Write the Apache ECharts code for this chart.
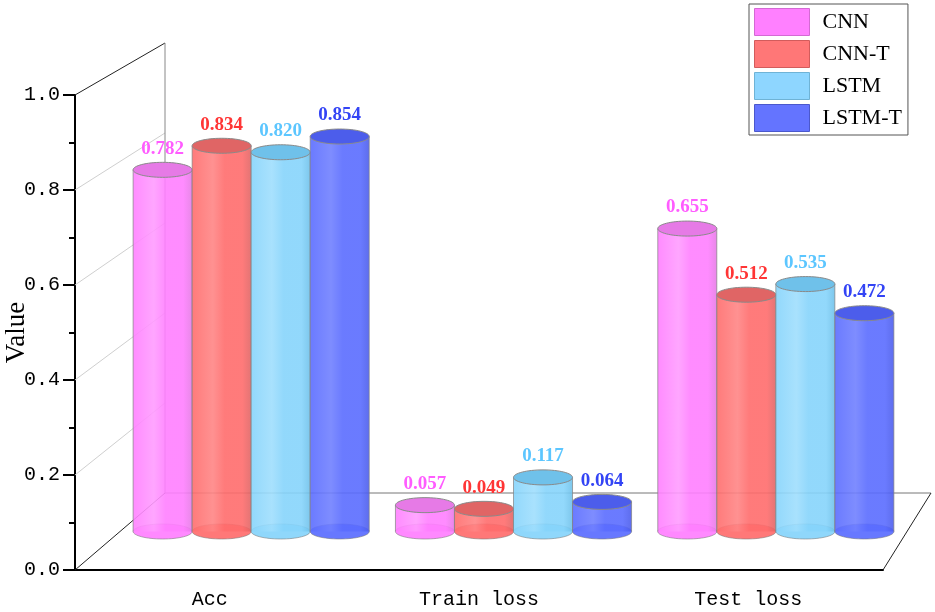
<!DOCTYPE html>
<html>
<head>
    <meta charset="utf-8">
    <script src="https://cdn.jsdelivr.net/npm/echarts@6/dist/echarts.min.js"></script>
    <style>
        html, body { margin: 0; padding: 0; background: #fff; }
    </style>
</head>
<body>
<div id="main" style="width: 935px;height:612px;"></div>
<script type="text/javascript">
    // data
    const categories = ['Acc', 'Train loss', 'Test loss'];
    const seriesNames = ['CNN', 'CNN-T', 'LSTM', 'LSTM-T'];
    const cnnValues = [0.782, 0.057, 0.655];
    const cnnTValues = [0.834, 0.049, 0.512];
    const lstmValues = [0.820, 0.117, 0.535];
    const lstmTValues = [0.854, 0.064, 0.472];
    const wallGridValues = [0.2, 0.4, 0.6, 0.8];

    const allValues = [cnnValues, cnnTValues, lstmValues, lstmTValues];
    // side colour, highlight, top colour, label colour
    const palette = [
        {side: '#ff7fff', light: '#ff9cff', top: '#e67ae6', label: '#ff5cff', legend: '#ff80ff', border: '#d36ad3'},
        {side: '#ff6c6c', light: '#ff8585', top: '#e06565', label: '#ff3535', legend: '#ff7777', border: '#d25c5c'},
        {side: '#86d4fb', light: '#9fdefd', top: '#6fc1ea', label: '#5cc6ff', legend: '#8ed6ff', border: '#6fb3d6'},
        {side: '#5a6cff', light: '#7080ff', top: '#4c5deb', label: '#3344f5', legend: '#6474ff', border: '#4b58cc'}
    ];

    const myChart = echarts.init(document.getElementById('main'));

    const axisFont = 'Liberation Mono';
    const ry = 7.5;

    function renderCylinder(params, api) {
        const s = params.seriesIndex;
        const cat = api.value(0);
        const val = api.value(1);
        const top = api.coord([cat, val]);
        const bottom = api.coord([cat, 0]);
        const band = api.size([1, 0])[0];
        const bw = band * 0.225;
        const cx = top[0] + (s - 1.5) * bw;
        const rx = bw / 2;
        const c = palette[s];
        return {
            type: 'group',
            children: [
                {
                    type: 'ellipse',
                    shape: {cx: cx, cy: bottom[1], rx: rx, ry: ry},
                    style: {fill: c.side, stroke: 'rgba(120,120,120,0.6)', lineWidth: 1, opacity: 0.92}
                },
                {
                    type: 'rect',
                    shape: {x: cx - rx, y: top[1], width: bw, height: bottom[1] - top[1]},
                    style: {
                        fill: new echarts.graphic.LinearGradient(0, 0, 1, 0, [
                            {offset: 0, color: c.side},
                            {offset: 0.35, color: c.light},
                            {offset: 0.55, color: c.side},
                            {offset: 0.85, color: c.side},
                            {offset: 1, color: c.top}
                        ]),
                        opacity: 0.9
                    }
                },
                {
                    type: 'line',
                    shape: {x1: cx - rx, y1: top[1], x2: cx - rx, y2: bottom[1]},
                    style: {stroke: 'rgba(130,130,130,0.7)', lineWidth: 1}
                },
                {
                    type: 'line',
                    shape: {x1: cx + rx, y1: top[1], x2: cx + rx, y2: bottom[1]},
                    style: {stroke: 'rgba(130,130,130,0.7)', lineWidth: 1}
                },
                {
                    type: 'ellipse',
                    shape: {cx: cx, cy: top[1], rx: rx, ry: ry},
                    style: {fill: c.top, stroke: '#8a8a8a', lineWidth: 1}
                },
                {
                    type: 'text',
                    style: {
                        x: cx,
                        y: top[1] - ry - 4,
                        text: val.toFixed(3),
                        fill: c.label,
                        font: 'bold 19px "Liberation Serif"',
                        align: 'center',
                        verticalAlign: 'bottom'
                    }
                }
            ]
        };
    }

    const series = seriesNames.map(function (name, i) {
        return {
            name: name,
            type: 'custom',
            xAxisIndex: 3,
            yAxisIndex: 2,
            itemStyle: {color: palette[i].legend},
            renderItem: renderCylinder,
            data: allValues[i].map(function (v, k) { return [k, v]; }),
            z: 3
        };
    });

    const option = {
        animation: false,
        backgroundColor: '#fff',
        legend: {
            data: seriesNames.map(function (n, i) {
                return {name: n, itemStyle: {color: palette[i].legend, borderColor: palette[i].border, borderWidth: 1}};
            }),
            orient: 'vertical',
            left: 749,
            top: 4,
            icon: 'rect',
            itemWidth: 55,
            itemHeight: 27,
            itemGap: 4,
            padding: [4, 6, 3, 5],
            backgroundColor: '#fff',
            borderColor: '#555',
            borderWidth: 1,
            selectedMode: false,
            textStyle: {fontFamily: 'Liberation Serif', fontSize: 22, color: '#000', padding: [0, 0, 0, 8]}
        },
        grid: [
            // front plane
            {left: 75, right: 52, top: 95, bottom: 42, outerBoundsMode: 'none', containLabel: false},
            // back plane
            {left: 165, right: 4, top: 43, bottom: 119, outerBoundsMode: 'none', containLabel: false},
            // middle plane where the cylinders stand
            {left: 120, right: 28, top: 69, bottom: 80.5, outerBoundsMode: 'none', containLabel: false}
        ],
        xAxis: [
            {
                type: 'category', gridIndex: 0, data: categories,
                axisLine: {lineStyle: {color: '#000', width: 2}},
                axisTick: {alignWithLabel: true, length: 8, lineStyle: {color: '#000', width: 2}},
                axisLabel: {fontFamily: axisFont, fontSize: 20, color: '#000', margin: 20}
            },
            {
                type: 'category', gridIndex: 0, data: categories, position: 'bottom',
                axisLine: {show: false},
                axisTick: {length: 4, lineStyle: {color: '#000', width: 2}},
                axisLabel: {show: false}
            },
            {type: 'category', gridIndex: 1, data: categories, show: false},
            {type: 'category', gridIndex: 2, data: categories, show: false}
        ],
        yAxis: [
            {
                type: 'value', gridIndex: 0, min: 0, max: 1, interval: 0.2,
                name: 'Value', nameLocation: 'middle', nameGap: 45, nameRotate: 90,
                nameMoveOverlap: false,
                nameTextStyle: {fontFamily: 'Liberation Serif', fontSize: 27, color: '#000'},
                axisLine: {show: true, lineStyle: {color: '#000', width: 2}},
                axisTick: {show: true, length: 12, lineStyle: {color: '#000', width: 2}},
                minorTick: {show: true, splitNumber: 2, length: 6, lineStyle: {color: '#000', width: 2}},
                splitLine: {show: false},
                axisLabel: {
                    fontFamily: axisFont, fontSize: 20, color: '#000', margin: 15,
                    formatter: function (v) { return v.toFixed(1); }
                }
            },
            {type: 'value', gridIndex: 1, min: 0, max: 1, interval: 0.2, show: false, splitLine: {show: false}},
            {type: 'value', gridIndex: 2, min: 0, max: 1, interval: 0.2, show: false, splitLine: {show: false}}
        ],
        series: series
    };

    myChart.setOption(option);

    // walls and floor of the box, from the front and back planes
    function edgePoint(gridIndex, side, v) {
        const p0 = myChart.convertToPixel({gridIndex: gridIndex}, [0, v]);
        const p2 = myChart.convertToPixel({gridIndex: gridIndex}, [categories.length - 1, v]);
        const half = (p2[0] - p0[0]) / (categories.length - 1) / 2;
        return side === 'left' ? [p0[0] - half, p0[1]] : [p2[0] + half, p2[1]];
    }

    function seg(a, b, color) {
        return {
            type: 'line', z: 1,
            shape: {x1: a[0], y1: a[1], x2: b[0], y2: b[1]},
            style: {stroke: color, lineWidth: 1}
        };
    }

    const frame = [];
    wallGridValues.forEach(function (v) {
        frame.push(seg(edgePoint(0, 'left', v), edgePoint(1, 'left', v), '#cfcfcf'));
    });
    frame.push(seg(edgePoint(0, 'left', 1), edgePoint(1, 'left', 1), '#222'));
    frame.push(seg(edgePoint(0, 'left', 0), edgePoint(1, 'left', 0), '#222'));
    frame.push(seg(edgePoint(1, 'left', 1), edgePoint(1, 'left', 0), '#888'));
    frame.push(seg(edgePoint(1, 'left', 0), edgePoint(1, 'right', 0), '#777'));
    frame.push(seg(edgePoint(0, 'right', 0), edgePoint(1, 'right', 0), '#222'));

    myChart.setOption({graphic: frame});
</script>
</body>
</html>
